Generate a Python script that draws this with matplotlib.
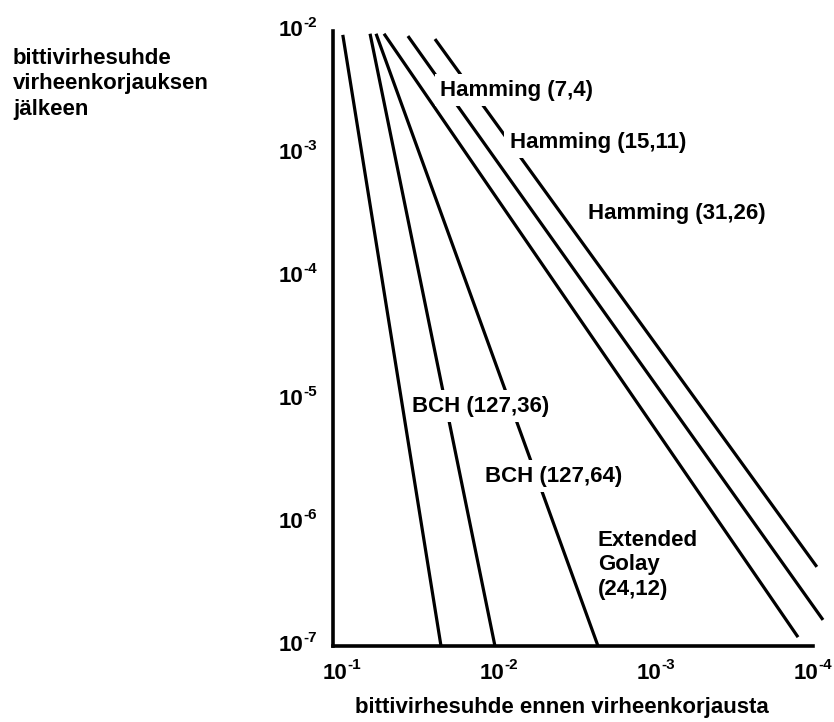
import matplotlib
matplotlib.use("Agg")
import matplotlib.pyplot as plt

plt.rcParams['font.family'] = ['Liberation Sans', 'DejaVu Sans']
plt.rcParams['font.weight'] = 'bold'

# Bit error rate before correction (x) -> after correction (y), line end points
codes = ["BCH (127,36)", "BCH (127,64)", "Extended\nGolay\n(24,12)",
         "Hamming (7,4)", "Hamming (15,11)", "Hamming (31,26)"]
ber_in_start = [9.6e-2, 6.44e-2, 5.9e-2, 5.25e-2, 3.7e-2, 2.49e-2]
ber_in_end = [2.28e-2, 1.035e-2, 2.29e-3, 1.225e-4, 8.5e-5, 9.3e-5]
ber_out_start = [9.3e-3, 9.5e-3, 9.5e-3, 9.5e-3, 9.1e-3, 8.6e-3]
ber_out_end = [1e-7, 1e-7, 1e-7, 1.18e-7, 1.63e-7, 4.4e-7]

# Label anchor points (left edge, vertical centre) in data units
label_x = [3.48e-2, 1.197e-2, 2.29e-3, 2.31e-2, 8.3e-3, 2.65e-3]
label_y = [8.93e-6, 2.41e-6, 4.56e-7, 3.31e-3, 1.25e-3, 3.31e-4]

x_ticks = [1e-1, 1e-2, 1e-3, 1e-4]
x_exponents = ["-1", "-2", "-3", "-4"]
y_ticks = [1e-2, 1e-3, 1e-4, 1e-5, 1e-6, 1e-7]
y_exponents = ["-2", "-3", "-4", "-5", "-6", "-7"]

FS = 16
SUP_FS = 11

W, H = 834, 722
fig = plt.figure(figsize=(W / 100, H / 100), dpi=100)
ax = fig.add_axes([333 / W, 1 - 646 / H, (813 - 333) / W, (646 - 31) / H])

ax.set_xscale('log')
ax.set_yscale('log')
ax.set_xlim(10 ** -0.9555, 10 ** -4.007)
ax.set_ylim(1e-7, 1e-2)

for x0, x1, y0, y1 in zip(ber_in_start, ber_in_end, ber_out_start, ber_out_end):
    ax.plot([x0, x1], [y0, y1], color='black', lw=2.3, clip_on=False,
            solid_capstyle='butt', zorder=2)

for name, tx, ty in zip(codes, label_x, label_y):
    ax.text(tx, ty, name, fontsize=FS, fontweight='bold', ha='left', va='center',
            linespacing=1.2, zorder=5,
            bbox=dict(facecolor='white', edgecolor='none', pad=4))

# Power-of-ten tick labels drawn as base + raised exponent
ax.set_xticks(x_ticks)
ax.set_yticks(y_ticks)
ax.minorticks_off()
ax.tick_params(axis='both', length=0, labelbottom=False, labelleft=False)

xtr = ax.get_xaxis_transform()
for t, e in zip(x_ticks, x_exponents):
    ax.annotate("10", xy=(t, 0), xycoords=xtr, xytext=(5, -19.5),
                textcoords='offset points', ha='right', va='center',
                fontsize=FS, fontweight='bold', annotation_clip=False)
    ax.annotate(e, xy=(t, 0), xycoords=xtr, xytext=(5, -14),
                textcoords='offset points', ha='left', va='center',
                fontsize=SUP_FS, fontweight='bold', annotation_clip=False)

ytr = ax.get_yaxis_transform()
for t, e in zip(y_ticks, y_exponents):
    ax.annotate("10", xy=(0, t), xycoords=ytr, xytext=(-21.5, 0),
                textcoords='offset points', ha='right', va='center',
                fontsize=FS, fontweight='bold', annotation_clip=False)
    ax.annotate(e, xy=(0, t), xycoords=ytr, xytext=(-21.5, 5.5),
                textcoords='offset points', ha='left', va='center',
                fontsize=SUP_FS, fontweight='bold', annotation_clip=False)

for side in ('top', 'right'):
    ax.spines[side].set_visible(False)
for side in ('left', 'bottom'):
    ax.spines[side].set_linewidth(2.6)
    ax.spines[side].set_capstyle('projecting')

for line, yc in zip(["bittivirhesuhde", "virheenkorjauksen", "jälkeen"], [58, 84, 109]):
    fig.text(13 / W, 1 - yc / H, line, fontsize=FS, fontweight='bold',
             ha='left', va='center')
fig.text(562 / W, 1 - 708 / H, "bittivirhesuhde ennen virheenkorjausta",
         fontsize=FS, fontweight='bold', ha='center', va='center')

fig.savefig("out.png", dpi=100, facecolor='white')
